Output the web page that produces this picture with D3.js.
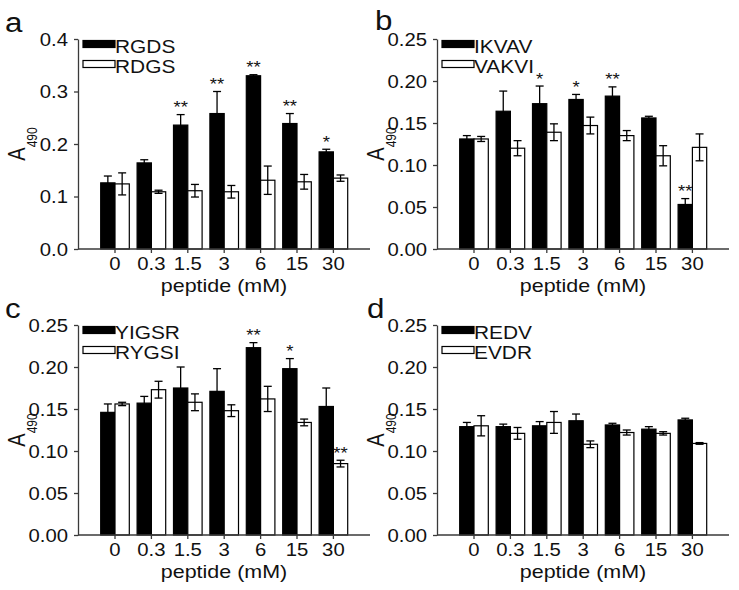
<!DOCTYPE html>
<html>
<head>
<meta charset="utf-8">
<script src="https://cdn.jsdelivr.net/npm/d3@7/dist/d3.min.js"></script>
<style>
  html, body { margin: 0; padding: 0; background: #fff; }
  svg { display: block; }
  text { font-family: "Liberation Sans", Arial, Helvetica, sans-serif; fill: #111; }
</style>
</head>
<body>
<svg id="chart" width="739" height="590"></svg>
<script>
// ---------- data ----------
const categories = ["0", "0.3", "1.5", "3", "6", "15", "30"];

const rgds    = [0.126, 0.164, 0.236, 0.258, 0.330, 0.239, 0.185];
const rgdsErr = [0.013, 0.006, 0.020, 0.042, 0.002, 0.019, 0.005];
const rdgs    = [0.124, 0.109, 0.111, 0.109, 0.131, 0.128, 0.135];
const rdgsErr = [0.021, 0.003, 0.012, 0.012, 0.027, 0.014, 0.006];
const rgdsSig = ["", "", "**", "**", "**", "**", "*"];
const rdgsSig = ["", "", "", "", "", "", ""];

const ikvav    = [0.131, 0.164, 0.173, 0.178, 0.182, 0.156, 0.053];
const ikvavErr = [0.004, 0.024, 0.021, 0.006, 0.011, 0.002, 0.007];
const vakvi    = [0.131, 0.120, 0.139, 0.147, 0.135, 0.111, 0.121];
const vakviErr = [0.003, 0.009, 0.010, 0.010, 0.006, 0.012, 0.016];
const ikvavSig = ["", "", "*", "*", "**", "", "**"];
const vakviSig = ["", "", "", "", "", "", ""];

const yigsr    = [0.146, 0.157, 0.175, 0.171, 0.223, 0.198, 0.153];
const yigsrErr = [0.010, 0.008, 0.025, 0.027, 0.006, 0.012, 0.022];
const rygsi    = [0.156, 0.173, 0.158, 0.148, 0.162, 0.134, 0.085];
const rygsiErr = [0.002, 0.010, 0.010, 0.007, 0.015, 0.004, 0.004];
const yigsrSig = ["", "", "", "", "**", "*", ""];
const rygsiSig = ["", "", "", "", "", "", "**"];

const redv    = [0.129, 0.129, 0.130, 0.136, 0.131, 0.126, 0.137];
const redvErr = [0.005, 0.003, 0.005, 0.008, 0.002, 0.003, 0.002];
const evdr    = [0.130, 0.121, 0.134, 0.108, 0.122, 0.121, 0.109];
const evdrErr = [0.012, 0.007, 0.013, 0.004, 0.003, 0.002, 0.001];
const redvSig = ["", "", "", "", "", "", ""];
const evdrSig = ["", "", "", "", "", "", ""];

const ticksA = [0, 0.1, 0.2, 0.3, 0.4];
const ticksB = [0, 0.05, 0.10, 0.15, 0.20, 0.25];

const xTitle = "peptide (mM)";

// ---------- panels built from the arrays ----------
const panels = [
  { letter: "a", x0: 78,  top: 39,  ymax: 0.4,  ticks: ticksA, fmt: ".1f",
    names: ["RGDS", "RDGS"], vals: [rgds, rdgs], errs: [rgdsErr, rdgsErr], sigs: [rgdsSig, rdgsSig],
    lx: 5, ly: 31.7 },
  { letter: "b", x0: 437, top: 39,  ymax: 0.25, ticks: ticksB, fmt: ".2f",
    names: ["IKVAV", "VAKVI"], vals: [ikvav, vakvi], errs: [ikvavErr, vakviErr], sigs: [ikvavSig, vakviSig],
    lx: 375, ly: 30 },
  { letter: "c", x0: 78,  top: 325, ymax: 0.25, ticks: ticksB, fmt: ".2f",
    names: ["YIGSR", "RYGSI"], vals: [yigsr, rygsi], errs: [yigsrErr, rygsiErr], sigs: [yigsrSig, rygsiSig],
    lx: 5, ly: 318 },
  { letter: "d", x0: 437, top: 325, ymax: 0.25, ticks: ticksB, fmt: ".2f",
    names: ["REDV", "EVDR"], vals: [redv, evdr], errs: [redvErr, evdrErr], sigs: [redvSig, evdrSig],
    lx: 367, ly: 318 }
];

// ---------- drawing ----------
const SX = 1.16;          // horizontal stretch of the original figure's lettering
const H = 210;            // plot height
const AXW = 292;          // x-axis line length
const STEP = 36.4;        // group spacing
const AXIS_COLOR = "#3a3a3a";
const fills = ["#000", "#fff"];

const svg = d3.select("#chart");
svg.append("rect").attr("width", 739).attr("height", 590).attr("fill", "#fff");

function stext(g, x, y, str, size, anchor) {
  return g.append("text")
    .attr("transform", `translate(${x},${y}) scale(${SX},1)`)
    .attr("text-anchor", anchor || "start")
    .style("font-size", size + "px")
    .text(str);
}

panels.forEach(p => {
  const g = svg.append("g");
  const x0 = p.x0, top = p.top, bottom = top + H;

  const y = d3.scaleLinear().domain([0, p.ymax]).range([bottom, top]);
  const r0 = x0 + 37 - STEP / 2;
  const x = d3.scaleBand().domain(categories)
    .range([r0, r0 + STEP * categories.length])
    .paddingInner(1 - 28.6 / STEP).paddingOuter((1 - 28.6 / STEP) / 2);
  const xs = d3.scaleBand().domain([0, 1]).range([0, x.bandwidth()]);

  // bars
  [0, 1].forEach(s => {
    g.append("g").selectAll("rect")
      .data(categories)
      .join("rect")
      .attr("x", d => x(d) + xs(s))
      .attr("y", (d, i) => y(p.vals[s][i]))
      .attr("width", xs.bandwidth())
      .attr("height", (d, i) => y(0) - y(p.vals[s][i]))
      .attr("fill", fills[s])
      .attr("stroke", "#000")
      .attr("stroke-width", 1.2);
  });

  // error bars
  [0, 1].forEach(s => {
    const eg = g.append("g").attr("stroke", "#000").attr("stroke-width", 1.3);
    categories.forEach((c, i) => {
      const cx = x(c) + xs(s) + xs.bandwidth() / 2;
      const v = p.vals[s][i], e = p.errs[s][i];
      const yt = y(v + e), yb = y(v - e);
      eg.append("line").attr("x1", cx).attr("x2", cx).attr("y1", yt).attr("y2", yb);
      eg.append("line").attr("x1", cx - 4).attr("x2", cx + 4).attr("y1", yt).attr("y2", yt);
      eg.append("line").attr("x1", cx - 4).attr("x2", cx + 4).attr("y1", yb).attr("y2", yb);
      if (p.sigs[s][i]) {
        stext(g, cx, yt - 1.5, p.sigs[s][i], 16, "middle");
      }
    });
  });

  // y axis
  const ya = g.append("g").attr("transform", `translate(${x0},0)`)
    .call(d3.axisLeft(y).tickValues(p.ticks).tickFormat(d3.format(p.fmt)).tickSize(4).tickSizeOuter(0));
  ya.select(".domain").attr("stroke", AXIS_COLOR).attr("stroke-width", 1.3);
  ya.selectAll(".tick line").attr("stroke", AXIS_COLOR).attr("stroke-width", 1.3);
  ya.selectAll(".tick text")
    .attr("x", -10 / SX).attr("dy", "0.36em")
    .attr("transform", `scale(${SX},1)`)
    .style("font-size", "17.5px").style("font-family", null).attr("fill", "#111");

  // x axis
  const xa = g.append("g").attr("transform", `translate(0,${bottom})`)
    .call(d3.axisBottom(x).tickSize(4).tickSizeOuter(0));
  xa.select(".domain").remove();
  xa.selectAll(".tick line").attr("stroke", AXIS_COLOR).attr("stroke-width", 1.3);
  xa.selectAll(".tick text")
    .attr("y", 8.6).attr("dy", "0.71em")
    .attr("transform", `scale(${SX},1)`)
    .style("font-size", "17.5px").style("font-family", null).attr("fill", "#111");
  // rescale tick text position: scale() applies inside tick group, x=0 so centered
  g.append("line").attr("x1", x0).attr("x2", x0 + AXW).attr("y1", bottom).attr("y2", bottom)
    .attr("stroke", AXIS_COLOR).attr("stroke-width", 1.3);

  // x title
  stext(g, x0 + AXW / 2, bottom + 43, xTitle, 18.5, "middle");

  // y title A490
  const yt = g.append("text")
    .attr("transform", `translate(${x0 - 53},${(top + bottom) / 2}) rotate(-90) scale(1,${SX})`)
    .attr("text-anchor", "middle");
  yt.append("tspan").style("font-size", "20px").text("A");
  yt.append("tspan").style("font-size", "12px").attr("dy", 10).text("490");

  // legend
  p.names.forEach((n, k) => {
    g.append("rect")
      .attr("x", x0 + 5).attr("y", top + 1.5 + k * 20)
      .attr("width", 32).attr("height", 7)
      .attr("fill", fills[k]).attr("stroke", "#000").attr("stroke-width", 1.2);
    stext(g, x0 + 37, top + 13.7 + k * 20, n, 18, "start");
  });

  // panel letter
  stext(g, p.lx, p.ly, p.letter, 27, "start");
});
</script>
</body>
</html>
